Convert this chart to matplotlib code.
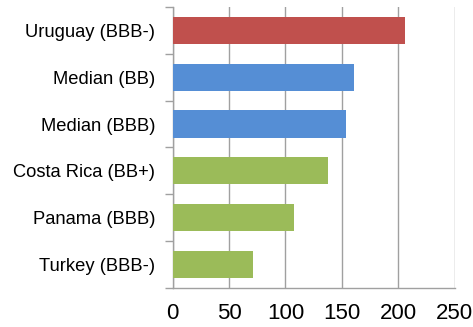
import numpy as np
import matplotlib.pyplot as plt

categories = ["Turkey (BBB-)", "Panama (BBB)", "Costa Rica (BB+)",
              "Median (BBB)", "Median (BB)", "Uruguay (BBB-)"]
values = [71, 108, 138, 154, 161, 206]
colors = ["#9BBB59", "#9BBB59", "#9BBB59", "#558ED5", "#558ED5", "#C0504D"]
xticks = [0, 50, 100, 150, 200, 250]

plt.rcParams["font.family"] = ["Liberation Sans", "DejaVu Sans"]

fig = plt.figure(figsize=(4.73, 3.27), dpi=100)
ax = fig.add_axes([0.3647, 0.1193, 0.5966, 0.8593])

y = np.arange(len(categories))
ax.barh(y, values, height=0.58, color=colors, zorder=3)

ax.set_xlim(0, 250)
ax.set_ylim(-0.5, len(categories) - 0.5)
ax.set_xticks(xticks)
ax.set_xticklabels([str(t) for t in xticks], fontsize=16)
ax.set_yticks(y)
ax.set_yticklabels(categories, fontsize=13.2)
ax.set_yticks(np.arange(len(categories) + 1) - 0.5, minor=True)

ax.tick_params(axis="y", which="major", length=0, pad=12.5)
ax.tick_params(axis="y", which="minor", length=6, color="#A0A0A0", width=1)
ax.tick_params(axis="x", length=0, pad=11)

ax.grid(axis="x", color="#A0A0A0", linewidth=1, zorder=0)
for side in ["top", "right"]:
    ax.spines[side].set_visible(False)
for side in ["left", "bottom"]:
    ax.spines[side].set_color("#A0A0A0")
    ax.spines[side].set_linewidth(1)

fig.savefig("out.png", dpi=100)
